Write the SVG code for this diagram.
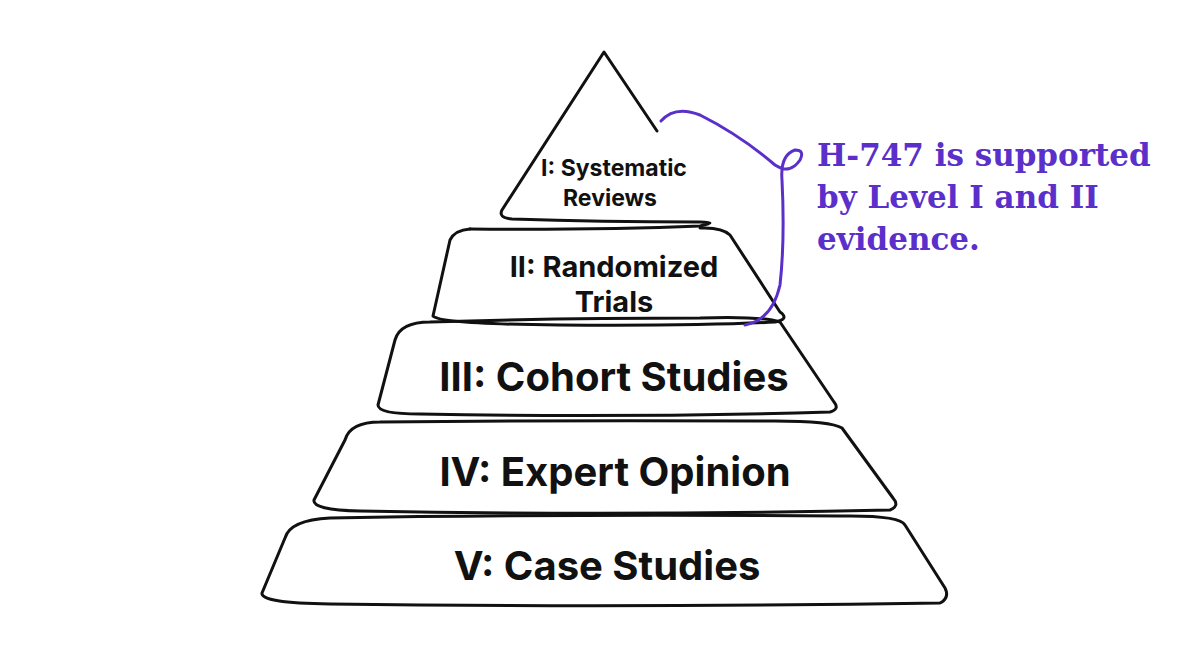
<svg xmlns="http://www.w3.org/2000/svg" width="1200" height="669" viewBox="0 0 1200 669">
<style>
.o{fill:none;stroke:#111;stroke-width:3;stroke-linecap:round;stroke-linejoin:round}
.t{font-family:Inter,"Liberation Sans",sans-serif;font-weight:700;fill:#111;text-anchor:middle}
.a{font-family:"DejaVu Serif","Liberation Serif",serif;font-weight:700;fill:#5b2fc9;font-size:31px}
</style>
<rect width="1200" height="669" fill="#fff"/>
<g id="tier1">
<path class="o" d="M657 131 L604 52 L502 210 Q498 218 512 219 Q600 222 700 222 Q720 222 700 226 Q600 230 470 229"/>
<text class="t" x="614" y="176" font-size="23">I: Systematic</text>
<text class="t" x="610" y="206" font-size="23">Reviews</text>
</g>
<g id="tier2">
<path class="o" d="M470 229 Q455 230 450 240 L433 316 Q440 324 560 325 Q700 326 775 322 Q790 319 780 312 L730 235 Q722 227 700 228"/>
<text class="t" x="614" y="277" font-size="29">II: Randomized</text>
<text class="t" x="614" y="312" font-size="29">Trials</text>
</g>
<g id="tier3">
<path class="o" d="M430 322 Q400 322 395 340 L378 405 Q378 414 420 414 Q620 418 830 412 Q840 409 834 402 L780 322 Q760 316 700 318 Q560 318 430 322"/>
<text class="t" x="614" y="391" font-size="40">III: Cohort Studies</text>
</g>
<g id="tier4">
<path class="o" d="M380 422 Q350 422 345 440 L314 500 Q312 510 360 511 Q620 516 890 510 Q900 506 893 498 L842 428 Q830 420 760 421 Q560 420 380 422"/>
<text class="t" x="615" y="486" font-size="40">IV: Expert Opinion</text>
</g>
<g id="tier5">
<path class="o" d="M330 518 Q290 520 285 538 L262 593 Q260 603 330 604 Q620 608 940 603 Q950 598 945 588 L905 525 Q900 515 840 516 Q560 514 330 518"/>
<text class="t" x="607" y="580" font-size="40">V: Case Studies</text>
</g>
<g id="connectors">
<path fill="none" stroke="#5b2fc9" stroke-width="3" stroke-linecap="round" d="M661 121 Q675 105 700 115 Q740 135 775 165 Q790 175 800 160 Q805 150 795 150 Q780 155 782 180 Q785 240 780 285 Q772 320 745 325"/>
</g>
<g id="annotation">
<text class="a" x="817" y="166">H-747 is supported</text>
<text class="a" x="817" y="208">by Level I and II</text>
<text class="a" x="817" y="250">evidence.</text>
</g>
</svg>
